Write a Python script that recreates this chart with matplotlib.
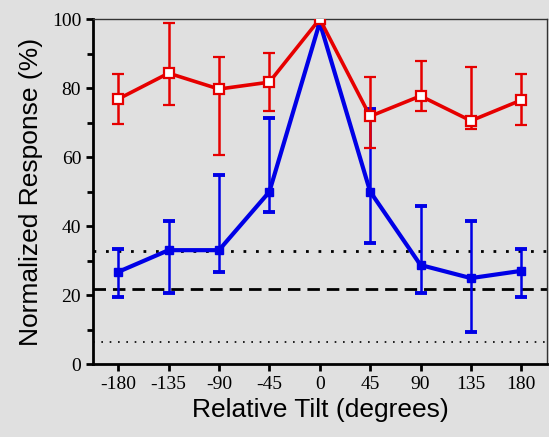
import matplotlib.pyplot as plt

# data
tilt = [-180, -135, -90, -45, 0, 45, 90, 135, 180]
red_mean = [76.8, 84.3, 79.7, 81.7, 100, 71.8, 77.7, 70.5, 76.5]
red_top = [84, 98.8, 89, 90.1, 100, 83.2, 87.8, 86.1, 84]
red_bot = [69.6, 75, 60.6, 73.3, 100, 62.6, 73.3, 68.1, 69.3]
blue_mean = [26.7, 33, 33, 49.9, 99, 50, 28.7, 24.9, 27]
blue_top = [33.3, 41.4, 54.8, 71.3, 99, 73.9, 45.8, 41.4, 33.3]
blue_bot = [19.4, 20.6, 26.7, 44, 99, 35, 20.6, 9.3, 19.4]
ref_dotted = 32.8
ref_dashed = 21.7
ref_fine = 6.4

plt.rcParams["axes.unicode_minus"] = False

bg = "#e0e0e0"
fig = plt.figure(figsize=(5.49, 4.37), dpi=100, facecolor=bg)
ax = fig.add_axes([0.1694, 0.167, 0.827, 0.7895], facecolor=bg)

# reference lines
ax.axhline(ref_dotted, color="black", lw=2.0, ls=(0, (1, 3.5)), zorder=1)
ax.axhline(ref_dashed, color="black", lw=2.0, ls=(0, (4.5, 2.5)), zorder=1)
ax.axhline(ref_fine, color="black", lw=1.2, ls=(0, (1, 4)), zorder=1)

def err(mean, top, bot):
    return [[m - b for m, b in zip(mean, bot)], [t - m for m, t in zip(mean, top)]]

ax.errorbar(tilt, blue_mean, yerr=err(blue_mean, blue_top, blue_bot),
            color="#0000e6", lw=3.0, marker="s", ms=6, mfc="#0000e6",
            elinewidth=1.8, capsize=4, capthick=2.8, zorder=3)
ax.errorbar(tilt, red_mean, yerr=err(red_mean, red_top, red_bot),
            color="#e60000", lw=2.6, marker="s", ms=7, mfc="white", mew=1.6,
            elinewidth=1.8, capsize=4, capthick=2.8, zorder=4)

ax.set_xlim(-202.5, 203)
ax.set_ylim(0, 100)
ax.set_xticks(tilt)
ax.set_yticks([0, 20, 40, 60, 80, 100])
ax.set_yticks([10, 30, 50, 70, 90], minor=True)

for lab in ax.get_xticklabels() + ax.get_yticklabels():
    lab.set_family("Liberation Serif")
    lab.set_fontsize(14)
ax.tick_params(axis="both", direction="out", width=2, length=5)
ax.tick_params(axis="y", which="minor", direction="out", width=2, length=4)

ax.spines["left"].set_linewidth(2)
ax.spines["bottom"].set_linewidth(2)
ax.spines["top"].set_linewidth(1)
ax.spines["right"].set_linewidth(1)
ax.spines["top"].set_color("#333333")
ax.spines["right"].set_color("#333333")

ax.set_xlabel("Relative Tilt (degrees)", family="Liberation Sans", fontsize=19, labelpad=4)
ax.set_ylabel("Normalized Response (%)", family="Liberation Sans", fontsize=19, labelpad=6)

fig.savefig("out.png", dpi=100, facecolor=bg)
